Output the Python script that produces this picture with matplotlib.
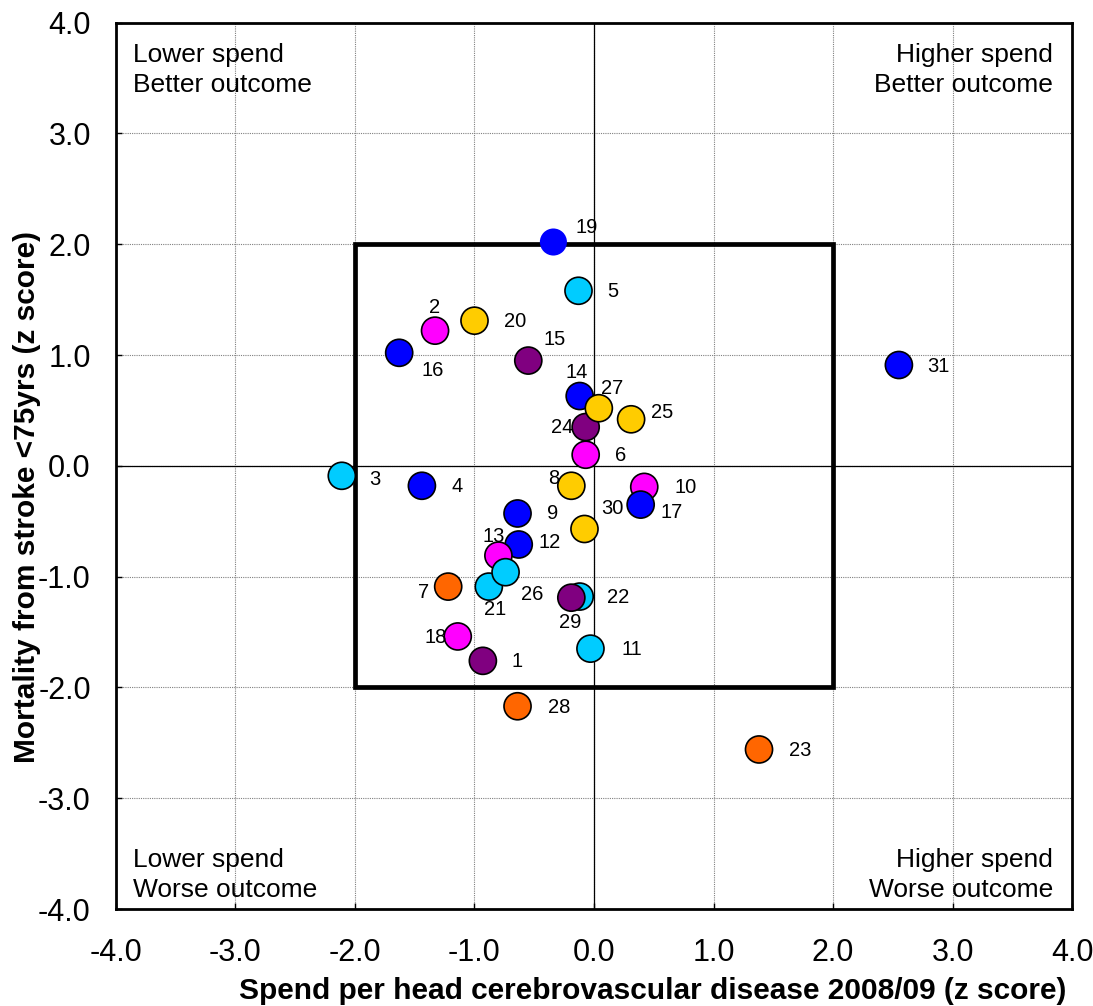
import matplotlib
matplotlib.use('Agg')
import matplotlib.pyplot as plt
from matplotlib.patches import Rectangle

plt.rcParams['font.family'] = ['Liberation Sans', 'DejaVu Sans']
plt.rcParams['axes.unicode_minus'] = False

# area number, spend z score, mortality z score, colour group
# (6 listed after 24 so it sits on top, as in the original)
area_ids = [1, 2, 3, 4, 5, 7, 8, 9, 10, 11, 12, 13, 14, 15, 16, 17, 18, 19,
            20, 21, 22, 23, 24, 6, 25, 26, 27, 28, 29, 30, 31]
spend_z = [-0.93, -1.33, -2.11, -1.44, -0.13, -1.22, -0.19, -0.64, 0.42, -0.03,
           -0.63, -0.80, -0.12, -0.55, -1.63, 0.39, -1.14, -0.34, -1.00, -0.88,
           -0.12, 1.38, -0.07, -0.07, 0.31, -0.74, 0.04, -0.64, -0.19, -0.08, 2.55]
mortality_z = [-1.76, 1.22, -0.09, -0.18, 1.58, -1.09, -0.18, -0.43, -0.19, -1.65,
               -0.71, -0.81, 0.63, 0.95, 1.02, -0.35, -1.54, 2.02, 1.31, -1.09,
               -1.18, -2.56, 0.35, 0.10, 0.42, -0.96, 0.52, -2.17, -1.19, -0.57, 0.91]
group = ['purple', 'magenta', 'cyan', 'blue', 'cyan', 'orange', 'gold', 'blue',
         'magenta', 'cyan', 'blue', 'magenta', 'blue', 'purple', 'blue', 'blue',
         'magenta', 'blue', 'gold', 'cyan', 'cyan', 'orange', 'purple', 'magenta',
         'gold', 'cyan', 'gold', 'orange', 'purple', 'gold', 'blue']

ticks = [-4, -3, -2, -1, 0, 1, 2, 3, 4]

colours = {'blue': '#0000FF', 'cyan': '#00CCFF', 'magenta': '#FF00FF',
           'gold': '#FFCC00', 'purple': '#800080', 'orange': '#FF6600'}

# label offsets from marker centre, in pixels (right, down)
label_px = {1: (34, 1), 2: (0, -23), 3: (33, 4), 4: (35, 1), 5: (34, 1),
            6: (35, 1), 7: (-25, 6), 8: (-18, -7), 9: (35, 0), 10: (41, 1),
            11: (41, 1), 12: (31, -2), 13: (-5, -19), 14: (-3, -24),
            15: (26, -21), 16: (34, 18), 17: (31, 8), 18: (-22, 1),
            19: (33, -15), 20: (41, 1), 21: (6, 23), 22: (38, 1), 23: (41, 1),
            24: (-23, 0), 25: (31, -7), 26: (27, 22), 27: (13, -20),
            28: (42, 1), 29: (-1, 25), 30: (28, -20), 31: (40, 1)}

fig = plt.figure(figsize=(10.93, 10.06), dpi=100)
ax = fig.add_axes([0.106, 0.0964, 0.875, 0.8811])

ax.set_xlim(-4, 4)
ax.set_ylim(-4, 4)
ax.set_xticks(ticks)
ax.set_yticks(ticks)
ax.xaxis.set_major_formatter('{x:.1f}')
ax.yaxis.set_major_formatter('{x:.1f}')
ax.tick_params(direction='in', length=4, width=1, labelsize=22, colors='black')
ax.tick_params(axis='y', pad=18)
ax.tick_params(axis='x', pad=21)
ax.grid(True, color='#808080', linestyle=(0, (1, 1)), linewidth=0.8)
ax.set_axisbelow(True)
for s in ax.spines.values():
    s.set_linewidth(2)

ax.axhline(0, color='black', linewidth=0.9, zorder=1)
ax.axvline(0, color='black', linewidth=0.9, zorder=1)
ax.add_patch(Rectangle((-2, -2), 4, 4, fill=False, edgecolor='black',
                       linewidth=3.4, zorder=2, joinstyle='miter'))

cols = [colours[g] for g in group]
edges = ['none' if a == 19 else 'black' for a in area_ids]
ax.scatter(spend_z, mortality_z, s=380, c=cols, edgecolors=edges,
           linewidths=1.2, zorder=3)

for a, xv, yv in zip(area_ids, spend_z, mortality_z):
    dx, dy = label_px[a]
    ax.annotate(str(a), (xv, yv), xytext=(dx * 0.72, -dy * 0.72),
                textcoords='offset points', ha='center', va='center',
                fontsize=14.5, zorder=4)

qfont = dict(fontsize=19, linespacing=1.3, transform=ax.transAxes)
ax.text(0.018, 0.977, 'Lower spend\nBetter outcome', ha='left', va='top', **qfont)
ax.text(0.980, 0.977, 'Higher spend\nBetter outcome', ha='right', va='top',
        multialignment='right', **qfont)
ax.text(0.018, 0.008, 'Lower spend\nWorse outcome', ha='left', va='bottom', **qfont)
ax.text(0.980, 0.008, 'Higher spend\nWorse outcome', ha='right', va='bottom',
        multialignment='right', **qfont)

ax.set_xlabel('Spend per head cerebrovascular disease 2008/09 (z score)',
              fontsize=21.5, fontweight='bold')
ax.set_ylabel('Mortality from stroke <75yrs (z score)',
              fontsize=21.5, fontweight='bold')
ax.xaxis.set_label_coords(0.561, -0.077)
ax.yaxis.set_label_coords(-0.078, 0.465)

fig.savefig('out.png', dpi=100)
